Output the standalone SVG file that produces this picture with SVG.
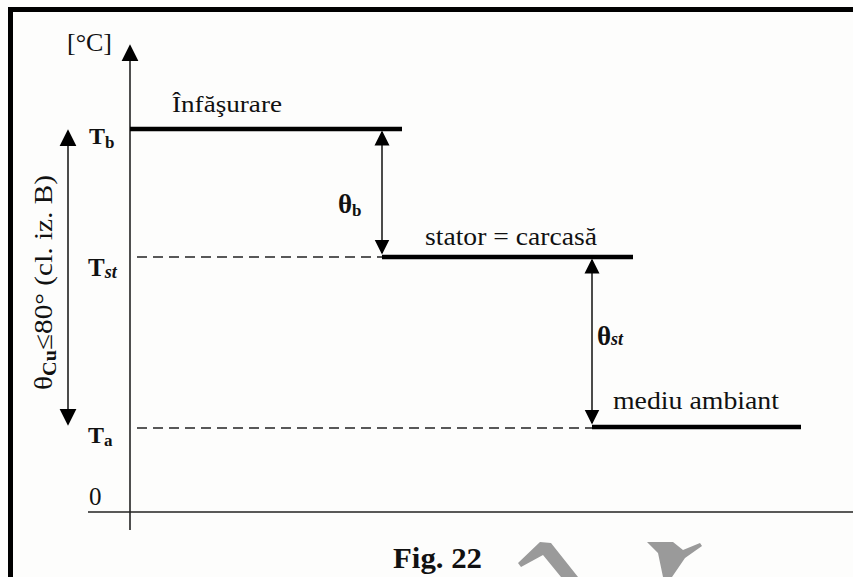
<svg xmlns="http://www.w3.org/2000/svg" width="853" height="577" viewBox="0 0 853 577">
<style>
.t{font-family:"Liberation Serif","Times New Roman",serif;fill:#111}
.b{font-weight:bold}
.lvl{stroke:#000;stroke-width:4.5;fill:none}
.dash{stroke:#222;stroke-width:1.6;stroke-dasharray:10 6;fill:none}
.ax{stroke:#222;stroke-width:1.6;fill:none}
.arr{stroke:#111;stroke-width:1.5;fill:none}
.gray{fill:#9a9a9a}
</style>
<defs>
<marker id="ah" viewBox="0 0 10 10" refX="9" refY="5" markerUnits="userSpaceOnUse" markerWidth="15" markerHeight="17" orient="auto-start-reverse">
<path d="M0,0 L10,5 L0,10 z" fill="#000"/>
</marker>
<marker id="ahL" viewBox="0 0 10 10" refX="9" refY="5" markerUnits="userSpaceOnUse" markerWidth="17" markerHeight="19" orient="auto-start-reverse">
<path d="M0,0 L10,5 L0,10 z" fill="#000"/>
</marker>
</defs>
<rect x="0" y="0" width="853" height="577" fill="#fdfdfc"/>
<rect id="frame" x="10.5" y="9.5" width="900" height="700" fill="none" stroke="#000" stroke-width="5"/>

<g id="connectors">
<line class="ax" x1="130" y1="530" x2="130" y2="46" marker-end="url(#ahL)"/>
<line class="ax" x1="88" y1="512" x2="853" y2="512"/>
<line class="arr" x1="68" y1="131" x2="68" y2="424" marker-start="url(#ahL)" marker-end="url(#ahL)"/>
<line class="arr" x1="382" y1="132" x2="382" y2="253" marker-start="url(#ah)" marker-end="url(#ah)"/>
<line class="arr" x1="592" y1="260" x2="592" y2="423" marker-start="url(#ah)" marker-end="url(#ah)"/>
<line class="dash" x1="137" y1="257" x2="382" y2="257"/>
<line class="dash" x1="137" y1="428" x2="592" y2="428"/>
</g>

<g id="axis-labels">
<text class="t" x="67" y="51" font-size="25" textLength="45" lengthAdjust="spacingAndGlyphs">[°C]</text>
<text class="t" x="89" y="505" font-size="25">0</text>
<text class="t" transform="translate(52,390) rotate(-90)" font-size="26" textLength="215" lengthAdjust="spacingAndGlyphs">θ<tspan class="b" font-size="18" dy="4">Cu</tspan><tspan dy="-4">≤80° (cl. iz. B)</tspan></text>
</g>

<g id="level-Tb">
<line class="lvl" x1="130" y1="129" x2="402" y2="129"/>
<text class="t" x="172" y="112" font-size="24" textLength="110" lengthAdjust="spacingAndGlyphs">Înfăşurare</text>
<text class="t b" x="89" y="144" font-size="24">T<tspan font-size="17" dy="4">b</tspan></text>
</g>

<g id="level-Tst">
<line class="lvl" x1="382" y1="257" x2="633" y2="257"/>
<text class="t" x="425" y="245" font-size="25" textLength="172" lengthAdjust="spacingAndGlyphs">stator = carcasă</text>
<text class="t b" x="88" y="276" font-size="25">T<tspan font-size="18" font-style="italic" dy="2">st</tspan></text>
</g>

<g id="level-Ta">
<line class="lvl" x1="592" y1="427" x2="801" y2="427"/>
<text class="t" x="613" y="409" font-size="25" textLength="166" lengthAdjust="spacingAndGlyphs">mediu ambiant</text>
<text class="t b" x="88" y="443" font-size="24">T<tspan font-size="17" dy="3">a</tspan></text>
</g>

<g id="delta-b">
<text class="t b" x="338" y="213" font-size="27">θ<tspan font-size="17" dy="3">b</tspan></text>
</g>

<g id="delta-st">
<text class="t b" x="597" y="345" font-size="27">θ<tspan font-size="18" font-style="italic">st</tspan></text>
</g>

<g id="caption">
<text class="t b" x="393" y="568" font-size="30" textLength="89" lengthAdjust="spacingAndGlyphs">Fig. 22</text>
<path class="gray" d="M518,563 L540,542 L551,543 L578,577 L561,577 L543,555 L521,567 z"/>
<path class="gray" d="M647,542 L673,542 L683,550 L700,543 L702,546 L685,558 L672,577 L663,577 L658,553 z"/>
</g>
</svg>
